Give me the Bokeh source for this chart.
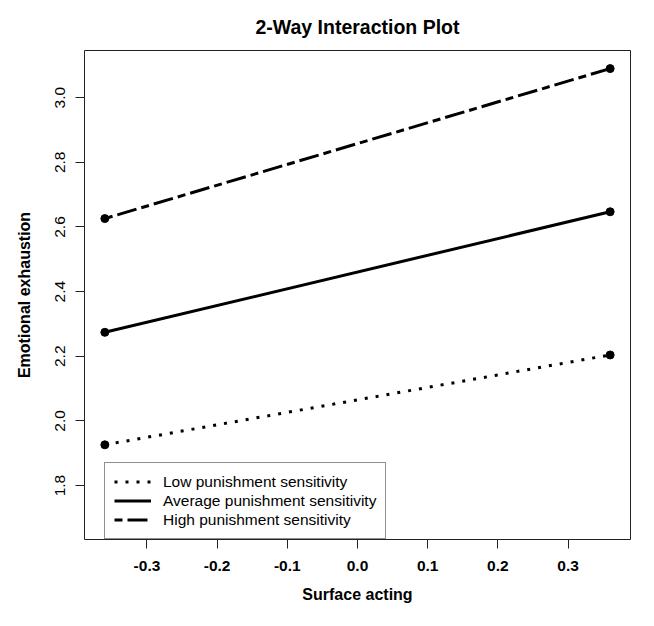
from bokeh.plotting import figure
from bokeh.models import Range1d, FixedTicker, PrintfTickFormatter, Legend, LegendItem
from bokeh.embed import file_html
from bokeh.resources import INLINE

# Data
surface_acting = [-0.36, 0.36]
low_ps = [1.926, 2.204]
avg_ps = [2.274, 2.647]
high_ps = [2.626, 3.090]
x_ticks = [-0.3, -0.2, -0.1, 0.0, 0.1, 0.2, 0.3]
y_ticks = [1.8, 2.0, 2.2, 2.4, 2.6, 2.8, 3.0]
labels = ["Low punishment sensitivity", "Average punishment sensitivity", "High punishment sensitivity"]

FONT = "Liberation Sans"

p = figure(width=638, height=610, output_backend="svg", toolbar_location=None,
           x_range=Range1d(-0.389, 0.389), y_range=Range1d(1.633, 3.146),
           min_border_left=84, min_border_right=8, min_border_top=50, min_border_bottom=71,
           title="2-Way Interaction Plot")

p.background_fill_color = "white"
p.border_fill_color = "white"
p.outline_line_color = "#222222"
p.outline_line_width = 1
p.xgrid.visible = False
p.ygrid.visible = False

p.title.align = "center"
p.title.text_font = FONT
p.title.text_font_size = "19.5px"
p.title.text_font_style = "bold"
p.title.text_color = "black"
p.title.standoff = 25

for ax in (p.xaxis[0], p.yaxis[0]):
    ax.axis_line_color = None
    ax.major_tick_line_color = "#222222"
    ax.major_tick_out = 9
    ax.major_tick_in = 0
    ax.minor_tick_line_color = None
    ax.major_label_text_font = FONT
    ax.major_label_text_font_size = "15.5px"
    ax.major_label_text_color = "black"
    ax.axis_label_text_font = FONT
    ax.axis_label_text_font_size = "16px"
    ax.axis_label_text_font_style = "bold"
    ax.axis_label_text_color = "black"
    ax.formatter = PrintfTickFormatter(format="%.1f")

p.xaxis[0].ticker = FixedTicker(ticks=x_ticks)
p.yaxis[0].ticker = FixedTicker(ticks=y_ticks)
p.xaxis[0].major_label_text_font_style = "bold"
p.xaxis[0].major_label_standoff = 12
p.xaxis[0].axis_label = "Surface acting"
p.xaxis[0].axis_label_standoff = 12
p.yaxis[0].major_label_orientation = "vertical"
p.yaxis[0].major_label_standoff = 10
p.yaxis[0].axis_label = "Emotional exhaustion"
p.yaxis[0].axis_label_standoff = 20

r_low = p.line(surface_acting, low_ps, line_color="black", line_width=3, line_dash="3 8")
r_avg = p.line(surface_acting, avg_ps, line_color="black", line_width=3)
r_high = p.line(surface_acting, high_ps, line_color="black", line_width=3, line_dash="8 5 20 5")
for ys in (low_ps, avg_ps, high_ps):
    p.scatter(surface_acting, ys, size=8, color="black")

legend = Legend(items=[LegendItem(label=labels[0], renderers=[r_low]),
                       LegendItem(label=labels[1], renderers=[r_avg]),
                       LegendItem(label=labels[2], renderers=[r_high])],
                location=(20, 0), margin=0, padding=9, spacing=0,
                label_height=19, glyph_width=37, glyph_height=19, label_standoff=12,
                border_line_color="#222222", border_line_width=1,
                background_fill_color="white", background_fill_alpha=1.0,
                label_text_font=FONT, label_text_font_size="15.5px", label_text_color="black")
p.add_layout(legend, "center")

open("out.html", "w").write(file_html(p, INLINE))
